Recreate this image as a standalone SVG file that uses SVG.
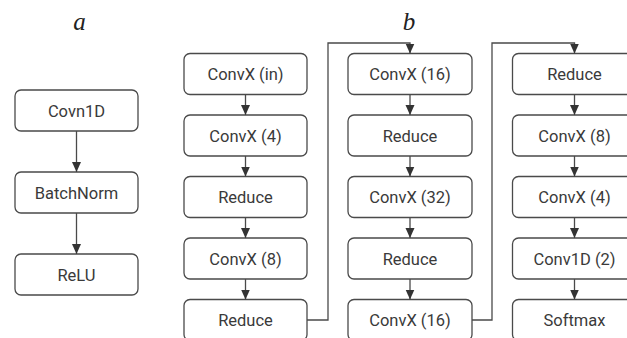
<svg xmlns="http://www.w3.org/2000/svg" width="627" height="338" viewBox="0 0 627 338">
  <style>
    .box { fill: #ffffff; stroke: #4a4a4a; stroke-width: 1.3; }
    .lbl { font-family: Roboto, "Liberation Sans", Arial, sans-serif; font-size: 16.5px; fill: #3a3a3a; text-anchor: middle; }
    .tag { font-family: "Liberation Serif", "Times New Roman", serif; font-style: italic; font-size: 25px; fill: #222222; text-anchor: middle; }
    .wire { fill: none; stroke: #4a4a4a; stroke-width: 1.3; }
  </style>
  <defs>
    <marker id="arrow" viewBox="0 0 10 10" refX="10" refY="5" markerWidth="10" markerHeight="10" markerUnits="userSpaceOnUse" orient="auto">
      <path d="M0,0.5 L10,5 L0,9.5 Z" fill="#333333"/>
    </marker>
  </defs>

  <!-- panel labels -->
  <text class="tag" x="79.5" y="30">a</text>
  <text class="tag" x="409" y="30">b</text>

  <!-- panel a: basic block -->
  <g id="a-conv1d"><rect class="box" x="15" y="90" width="123" height="41" rx="6"/><text class="lbl" x="76.5" y="116.5">Covn1D</text></g>
  <g id="a-batchnorm"><rect class="box" x="15" y="172" width="123" height="41" rx="6"/><text class="lbl" x="76.5" y="198.5">BatchNorm</text></g>
  <g id="a-relu"><rect class="box" x="15" y="254" width="123" height="41" rx="6"/><text class="lbl" x="76.5" y="280.5">ReLU</text></g>

  <!-- panel b, column 1 -->
  <g id="b1-convx-in"><rect class="box" x="184" y="53.5" width="123" height="41" rx="6"/><text class="lbl" x="245.5" y="80">ConvX (in)</text></g>
  <g id="b1-convx-4"><rect class="box" x="184" y="115" width="123" height="41" rx="6"/><text class="lbl" x="245.5" y="141.5">ConvX (4)</text></g>
  <g id="b1-reduce-1"><rect class="box" x="184" y="176.5" width="123" height="41" rx="6"/><text class="lbl" x="245.5" y="203">Reduce</text></g>
  <g id="b1-convx-8"><rect class="box" x="184" y="238" width="123" height="41" rx="6"/><text class="lbl" x="245.5" y="264.5">ConvX (8)</text></g>
  <g id="b1-reduce-2"><rect class="box" x="184" y="299.5" width="123" height="41" rx="6"/><text class="lbl" x="245.5" y="326">Reduce</text></g>

  <!-- panel b, column 2 -->
  <g id="b2-convx-16a"><rect class="box" x="348" y="53.5" width="124" height="41" rx="6"/><text class="lbl" x="410" y="80">ConvX (16)</text></g>
  <g id="b2-reduce-1"><rect class="box" x="348" y="115" width="124" height="41" rx="6"/><text class="lbl" x="410" y="141.5">Reduce</text></g>
  <g id="b2-convx-32"><rect class="box" x="348" y="176.5" width="124" height="41" rx="6"/><text class="lbl" x="410" y="203">ConvX (32)</text></g>
  <g id="b2-reduce-2"><rect class="box" x="348" y="238" width="124" height="41" rx="6"/><text class="lbl" x="410" y="264.5">Reduce</text></g>
  <g id="b2-convx-16b"><rect class="box" x="348" y="299.5" width="124" height="41" rx="6"/><text class="lbl" x="410" y="326">ConvX (16)</text></g>

  <!-- panel b, column 3 -->
  <g id="b3-reduce"><rect class="box" x="512.5" y="53.5" width="124" height="41" rx="6"/><text class="lbl" x="574.5" y="80">Reduce</text></g>
  <g id="b3-convx-8"><rect class="box" x="512.5" y="115" width="124" height="41" rx="6"/><text class="lbl" x="574.5" y="141.5">ConvX (8)</text></g>
  <g id="b3-convx-4"><rect class="box" x="512.5" y="176.5" width="124" height="41" rx="6"/><text class="lbl" x="574.5" y="203">ConvX (4)</text></g>
  <g id="b3-conv1d-2"><rect class="box" x="512.5" y="238" width="124" height="41" rx="6"/><text class="lbl" x="574.5" y="264.5">Conv1D (2)</text></g>
  <g id="b3-softmax"><rect class="box" x="512.5" y="299.5" width="124" height="41" rx="6"/><text class="lbl" x="574.5" y="326">Softmax</text></g>

  <!-- connectors -->
  <g id="connectors">
    <path class="wire" d="M76.5,131 V172" marker-end="url(#arrow)"/>
    <path class="wire" d="M76.5,213 V254" marker-end="url(#arrow)"/>

    <path class="wire" d="M245.5,94.5 V115" marker-end="url(#arrow)"/>
    <path class="wire" d="M245.5,156 V176.5" marker-end="url(#arrow)"/>
    <path class="wire" d="M245.5,217.5 V238" marker-end="url(#arrow)"/>
    <path class="wire" d="M245.5,279 V299.5" marker-end="url(#arrow)"/>
    <path class="wire" d="M307,320 H328 V43 H410 V53.5" marker-end="url(#arrow)"/>

    <path class="wire" d="M410,94.5 V115" marker-end="url(#arrow)"/>
    <path class="wire" d="M410,156 V176.5" marker-end="url(#arrow)"/>
    <path class="wire" d="M410,217.5 V238" marker-end="url(#arrow)"/>
    <path class="wire" d="M410,279 V299.5" marker-end="url(#arrow)"/>
    <path class="wire" d="M472,320 H492 V43 H574.5 V53.5" marker-end="url(#arrow)"/>

    <path class="wire" d="M574.5,94.5 V115" marker-end="url(#arrow)"/>
    <path class="wire" d="M574.5,156 V176.5" marker-end="url(#arrow)"/>
    <path class="wire" d="M574.5,217.5 V238" marker-end="url(#arrow)"/>
    <path class="wire" d="M574.5,279 V299.5" marker-end="url(#arrow)"/>
  </g>
</svg>
